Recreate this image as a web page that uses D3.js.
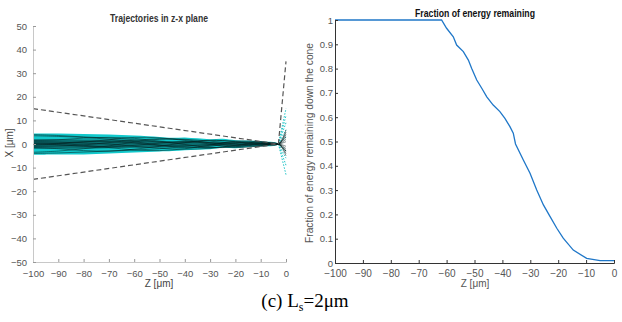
<!DOCTYPE html>
<html><head><meta charset="utf-8">
<script src="https://cdn.jsdelivr.net/npm/d3@7"></script>
<style>body{margin:0;background:#fff}svg{display:block}</style>
</head><body>
<svg id="c" width="622" height="322"></svg>
<script>
// ---------- data ----------
const zTicks = [-100,-90,-80,-70,-60,-50,-40,-30,-20,-10,0];
const xTicksLeft = [-50,-40,-30,-20,-10,0,10,20,30,40,50];
const yTicksRight = [0,0.1,0.2,0.3,0.4,0.5,0.6,0.7,0.8,0.9,1];

// envelope of trajectories (cyan band)
const envZ     = [-100,-90,-80,-70,-60,-50,-45,-40,-35,-30,-25,-20,-15,-10,-5,-3];
const envUpper = [4.5,4.4,4.2,4.0,3.6,3.0,2.6,2.8,2.4,2.0,2.2,1.6,1.5,1.2,0.8,0.3];
const envLower = [-4.6,-4.5,-4.4,-4.0,-3.6,-3.2,-3.0,-2.6,-2.4,-2.2,-1.6,-1.8,-1.3,-1.0,-0.8,-0.3];

// individual trajectories (x at trajZ)
const trajZ = [-100,-90,-80,-70,-60,-50,-40,-30,-20,-10,-3,0];
const traj1  = [3.5,3.2,2.8,2.0,1.0,-0.5,-1.5,-1.0,0.5,0.8,0,4];
const traj2  = [-3.5,-3.0,-2.0,-0.8,0.8,2.0,1.8,0.5,-1.0,-0.6,0,-5];
const traj3  = [1.5,1.8,2.5,2.8,2.4,1.2,-0.2,-1.5,-1.2,0.2,0,6];
const traj4  = [-1.5,-2.0,-2.8,-3.0,-2.2,-1.0,0.6,1.6,1.0,-0.4,0,-3];
const traj5  = [0.5,0.2,-0.5,-1.5,-2.5,-2.8,-2.0,-0.5,1.2,0.9,0,2];
const traj6  = [-0.5,0.0,0.8,1.8,2.8,2.6,1.5,0.0,-1.5,-0.8,0,-2];
const traj7  = [4.0,3.6,3.0,2.5,1.8,0.8,0.5,1.5,1.2,0.3,0,5];
const traj8  = [-4.0,-3.8,-3.4,-3.0,-2.6,-2.0,-1.2,-1.6,-0.8,0.5,0,-4];
const traj9  = [1.0,0.8,0.4,0.0,-1.0,-1.8,-2.2,-1.8,-0.5,1.0,0,1];
const traj10 = [-1.0,-0.8,-0.4,0.6,1.6,2.2,2.0,1.2,0.2,-1.0,0,-1];
const traj11 = [0.2,-0.3,-1.0,-1.2,-0.6,0.4,1.0,0.6,-0.4,-0.2,0,3];
const traj12 = [-0.2,0.3,1.0,1.0,0.4,-0.6,-0.8,-0.2,0.6,0.2,0,-3];

// scattered rays at the cone tip (x at z = 0)
const fanEnds = [15,12,9,6,3,-3,-6,-9,-13];

// cone boundary (dashed)
const coneZ = [-100,-3];
const coneUpper = [15,0];
const coneLower = [-15,0];
const exitZ = [-3,0];
const exitX = [0,35];

// energy fraction curve
const eZ = [-100,-61.8,-60,-57.6,-56.4,-54,-52.2,-51,-49.2,-47.4,-45.6,-43.3,-40.9,-39.1,-37.3,-36.1,-35.3,-32.5,-30.1,-27.7,-25.3,-22.9,-20.5,-18.2,-14.6,-9.8,-5.0,0];
const eV = [1,1,0.966,0.931,0.897,0.870,0.835,0.80,0.753,0.719,0.684,0.650,0.623,0.595,0.561,0.534,0.49,0.424,0.369,0.300,0.239,0.191,0.143,0.102,0.053,0.019,0.010,0.010];

// ---------- drawing ----------
const svg = d3.select("#c");
const tickFont = "Liberation Sans, Arial, sans-serif";

// ===== left panel =====
const xL = d3.scaleLinear().domain([-100,0]).range([33,286]);
const yL = d3.scaleLinear().domain([-50,50]).range([262,26]);
const gL = svg.append("g");

// cyan envelope
const envData = envZ.map((z,i)=>({z,u:envUpper[i],l:envLower[i]}));
gL.append("path").datum(envData)
  .attr("d", d3.area().x(d=>xL(d.z)).y0(d=>yL(d.l)).y1(d=>yL(d.u)).curve(d3.curveCatmullRom))
  .attr("fill","#12c9cc");

// fan rays
const fanG = gL.append("g");
fanEnds.forEach(v=>{
  fanG.append("line").attr("x1",xL(-3)).attr("y1",yL(0)).attr("x2",xL(0)).attr("y2",yL(v))
    .attr("stroke","#20c4c8").attr("stroke-width",1).attr("stroke-dasharray","1.5,1.5");
});

// inner darker core
gL.append("path").datum(envData)
  .attr("d", d3.area().x(d=>xL(d.z)).y0(d=>yL(d.l*0.45)).y1(d=>yL(d.u*0.45)).curve(d3.curveCatmullRom))
  .attr("fill","#053535").attr("fill-opacity",0.6);

// trajectories
const trajs = [traj1,traj2,traj3,traj4,traj5,traj6,traj7,traj8,traj9,traj10,traj11,traj12];
const tl = d3.line().x((d,i)=>xL(trajZ[i])).y(d=>yL(d)).curve(d3.curveCatmullRom);
trajs.forEach(t=>{
  gL.append("path").datum(t).attr("d",tl).attr("fill","none")
    .attr("stroke","#041f1f").attr("stroke-opacity",0.6).attr("stroke-width",0.9);
});

// dashed cone lines
const dl = (zs,xs)=>d3.line().x((d,i)=>xL(zs[i])).y(d=>yL(d))(xs);
[[coneZ,coneUpper],[coneZ,coneLower],[exitZ,exitX]].forEach(([zs,xs])=>{
  gL.append("path").attr("d",dl(zs,xs)).attr("fill","none")
    .attr("stroke","#555").attr("stroke-width",1.2).attr("stroke-dasharray","5,3");
});

// axes left
const axLx = d3.axisBottom(xL).tickValues(zTicks).tickSize(-3).tickPadding(6).tickFormat(d3.format("d"));
const axLy = d3.axisLeft(yL).tickValues(xTicksLeft).tickSize(-3).tickPadding(6).tickFormat(d3.format("d"));
const gLx = gL.append("g").attr("transform","translate(0,262)").call(axLx);
const gLy = gL.append("g").attr("transform","translate(33,0)").call(axLy);
[gLx,gLy].forEach(g=>{
  g.select(".domain").attr("stroke","#c8c8c8");
  g.selectAll(".tick line").attr("stroke","#999");
  g.selectAll("text").attr("fill","#555").style("font-family",tickFont).style("font-size","9.5px");
});
gLx.selectAll("text").attr("dy","0.9em");
gL.append("text").attr("x",159).attr("y",22).attr("text-anchor","middle")
  .style("font-family",tickFont).style("font-size","10px").style("font-weight","bold").attr("fill","#333")
  .attr("textLength",98).attr("lengthAdjust","spacingAndGlyphs").text("Trajectories in z-x plane");
gL.append("text").attr("x",159).attr("y",287).attr("text-anchor","middle")
  .style("font-family",tickFont).style("font-size","10px").attr("fill","#444").text("Z [μm]");
gL.append("text").attr("transform","translate(13,143) rotate(-90)").attr("text-anchor","middle")
  .style("font-family",tickFont).style("font-size","10px").attr("fill","#444").text("X [μm]");

// ===== right panel =====
const xR = d3.scaleLinear().domain([-100,0]).range([335,614]);
const yR = d3.scaleLinear().domain([0,1]).range([263,20]);
const gR = svg.append("g");
gR.append("path").datum(eZ.map((z,i)=>[z,eV[i]]))
  .attr("d", d3.line().x(d=>xR(d[0])).y(d=>yR(d[1])))
  .attr("fill","none").attr("stroke","#1f77c8").attr("stroke-width",1.3);

const axRx = d3.axisBottom(xR).tickValues(zTicks).tickSize(-3).tickPadding(5).tickFormat(d3.format("d"));
const axRy = d3.axisLeft(yR).tickValues(yTicksRight).tickSize(-3).tickPadding(2).tickFormat(d=>d===0||d===1?String(d):d3.format(".1f")(d));
const gRx = gR.append("g").attr("transform","translate(0,263)").call(axRx);
const gRy = gR.append("g").attr("transform","translate(335,0)").call(axRy);
[gRx,gRy].forEach(g=>{
  g.select(".domain").attr("stroke","#333");
  g.selectAll(".tick line").attr("stroke","#333");
  g.selectAll("text").attr("fill","#555").style("font-family",tickFont).style("font-size","10px");
});
gRy.selectAll("text").style("font-size","9.5px");
gRx.selectAll("text").attr("dy","0.9em");
gR.append("text").attr("x",475).attr("y",17).attr("text-anchor","middle")
  .style("font-family",tickFont).style("font-size","10px").style("font-weight","bold").attr("fill","#111")
  .attr("textLength",120).attr("lengthAdjust","spacingAndGlyphs").text("Fraction of energy remaining");
gR.append("text").attr("x",475).attr("y",287).attr("text-anchor","middle")
  .style("font-family",tickFont).style("font-size","10px").attr("fill","#555").text("Z [μm]");
gR.append("text").attr("transform","translate(313,143) rotate(-90)").attr("text-anchor","middle")
  .style("font-family",tickFont).style("font-size","10px").attr("fill","#555")
  .attr("textLength",200).attr("lengthAdjust","spacingAndGlyphs")
  .text("Fraction of energy remaining down the cone");

// caption
const cap = svg.append("text").attr("x",305).attr("y",307).attr("text-anchor","middle")
  .style("font-family","Liberation Serif, Times New Roman, serif").style("font-size","19px").attr("fill","#000");
cap.append("tspan").text("(c) L");
cap.append("tspan").attr("dy",4).style("font-size","12px").text("s");
cap.append("tspan").attr("dy",-4).text("=2μm");
</script>
</body></html>
